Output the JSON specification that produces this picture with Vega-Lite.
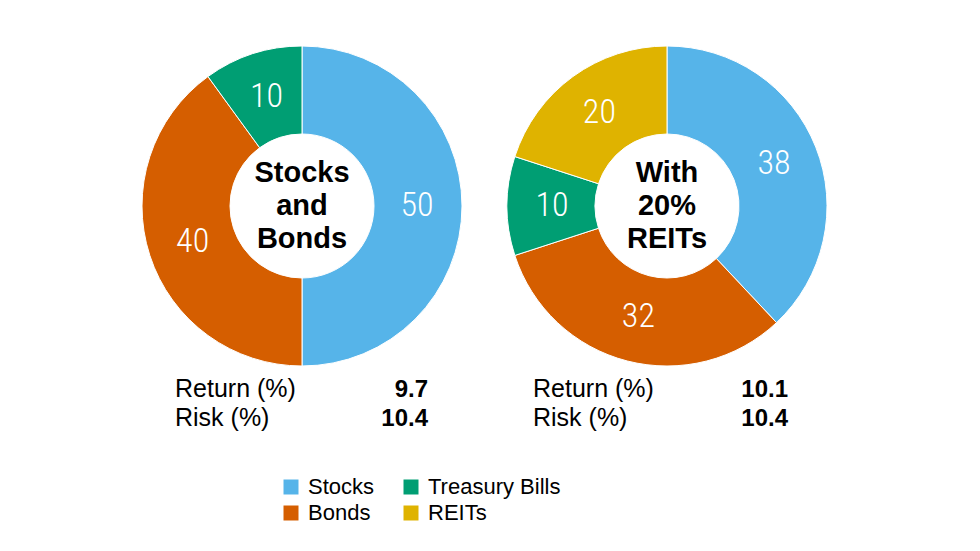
{
  "$schema": "https://vega.github.io/schema/vega-lite/v6.json",
  "background": "white",
  "padding": {"left": 140, "top": 0, "right": 0, "bottom": 0},
  "datasets": {
    "alloc": [
      {"portfolio": "Stocks and Bonds", "asset": "Stocks", "pct": 50, "seq": 1},
      {"portfolio": "Stocks and Bonds", "asset": "Bonds", "pct": 40, "seq": 2},
      {"portfolio": "Stocks and Bonds", "asset": "Treasury Bills", "pct": 10, "seq": 3},
      {"portfolio": "With 20% REITs", "asset": "Stocks", "pct": 38, "seq": 1},
      {"portfolio": "With 20% REITs", "asset": "Bonds", "pct": 32, "seq": 2},
      {"portfolio": "With 20% REITs", "asset": "Treasury Bills", "pct": 10, "seq": 3},
      {"portfolio": "With 20% REITs", "asset": "REITs", "pct": 20, "seq": 4}
    ],
    "centers": [
      {"portfolio": "Stocks and Bonds", "label": "Stocks\nand\nBonds"},
      {"portfolio": "With 20% REITs", "label": "With\n20%\nREITs"}
    ],
    "stats": [
      {"portfolio": "Stocks and Bonds", "metric": "Return (%)", "value": 9.7},
      {"portfolio": "Stocks and Bonds", "metric": "Risk (%)", "value": 10.4},
      {"portfolio": "With 20% REITs", "metric": "Return (%)", "value": 10.1},
      {"portfolio": "With 20% REITs", "metric": "Risk (%)", "value": 10.4}
    ]
  },
  "spacing": 45,
  "bounds": "flush",
  "hconcat": [
    {
      "width": 320,
      "height": 412,
      "layer": [
        {
          "data": {"name": "alloc"},
          "transform": [{"filter": "datum.portfolio === 'Stocks and Bonds'"}],
          "encoding": {
            "theta": {"field": "pct", "type": "quantitative", "stack": true},
            "order": {"field": "seq", "type": "quantitative"}
          },
          "layer": [
            {
              "mark": {"type": "arc", "radius": 160, "radius2": 72, "stroke": "white", "strokeWidth": 1},
              "encoding": {
                "color": {
                  "field": "asset",
                  "type": "nominal",
                  "scale": {
                    "domain": ["Stocks", "Bonds", "Treasury Bills", "REITs"],
                    "range": ["#56B4E9", "#D55E00", "#009E73", "#DFB300"]
                  },
                  "legend": {"title": null}
                }
              }
            },
            {
              "mark": {"type": "text", "radius": 115, "font": "Roboto Condensed, DejaVu Sans Condensed, Roboto", "fontWeight": 300, "fontSize": 34, "baseline": "middle"},
              "encoding": {
                "detail": {"field": "asset"},
                "text": {"field": "pct", "type": "quantitative"},
                "color": {"value": "white"}
              }
            }
          ]
        },
        {
          "data": {"name": "centers"},
          "transform": [{"filter": "datum.portfolio === 'Stocks and Bonds'"}],
          "mark": {"type": "text", "lineBreak": "\n", "lineHeight": 33, "dy": -33, "font": "Liberation Sans", "fontWeight": "bold", "fontSize": 29, "baseline": "middle", "color": "black"},
          "encoding": {"text": {"field": "label"}}
        },
        {
          "data": {"name": "stats"},
          "transform": [{"filter": "datum.portfolio === 'Stocks and Bonds'"}],
          "encoding": {
            "y": {"field": "metric", "type": "nominal", "axis": null, "scale": {"domain": ["Return (%)", "Risk (%)"], "range": [397, 426], "padding": 0}}
          },
          "layer": [
            {
              "mark": {"type": "text", "align": "left", "baseline": "alphabetic", "font": "Liberation Sans", "fontSize": 25, "color": "black"},
              "encoding": {
                "x": {"datum": 0, "type": "quantitative", "axis": null, "scale": {"domain": [0, 1], "range": [33, 286]}},
                "text": {"field": "metric"}
              }
            },
            {
              "mark": {"type": "text", "align": "right", "baseline": "alphabetic", "font": "Liberation Sans", "fontWeight": "bold", "fontSize": 24, "color": "black"},
              "encoding": {
                "x": {"datum": 1, "type": "quantitative", "axis": null, "scale": {"domain": [0, 1], "range": [33, 286]}},
                "text": {"field": "value", "type": "quantitative", "format": ".1f"}
              }
            }
          ]
        }
      ]
    },
    {
      "width": 320,
      "height": 412,
      "layer": [
        {
          "data": {"name": "alloc"},
          "transform": [{"filter": "datum.portfolio === 'With 20% REITs'"}],
          "encoding": {
            "theta": {"field": "pct", "type": "quantitative", "stack": true},
            "order": {"field": "seq", "type": "quantitative"}
          },
          "layer": [
            {
              "mark": {"type": "arc", "radius": 160, "radius2": 72, "stroke": "white", "strokeWidth": 1},
              "encoding": {
                "color": {
                  "field": "asset",
                  "type": "nominal",
                  "scale": {
                    "domain": ["Stocks", "Bonds", "Treasury Bills", "REITs"],
                    "range": ["#56B4E9", "#D55E00", "#009E73", "#DFB300"]
                  },
                  "legend": {"title": null}
                }
              }
            },
            {
              "mark": {"type": "text", "radius": 115, "font": "Roboto Condensed, DejaVu Sans Condensed, Roboto", "fontWeight": 300, "fontSize": 34, "baseline": "middle"},
              "encoding": {
                "detail": {"field": "asset"},
                "text": {"field": "pct", "type": "quantitative"},
                "color": {"value": "white"}
              }
            }
          ]
        },
        {
          "data": {"name": "centers"},
          "transform": [{"filter": "datum.portfolio === 'With 20% REITs'"}],
          "mark": {"type": "text", "lineBreak": "\n", "lineHeight": 33, "dy": -33, "font": "Liberation Sans", "fontWeight": "bold", "fontSize": 29, "baseline": "middle", "color": "black"},
          "encoding": {"text": {"field": "label"}}
        },
        {
          "data": {"name": "stats"},
          "transform": [{"filter": "datum.portfolio === 'With 20% REITs'"}],
          "encoding": {
            "y": {"field": "metric", "type": "nominal", "axis": null, "scale": {"domain": ["Return (%)", "Risk (%)"], "range": [397, 426], "padding": 0}}
          },
          "layer": [
            {
              "mark": {"type": "text", "align": "left", "baseline": "alphabetic", "font": "Liberation Sans", "fontSize": 25, "color": "black"},
              "encoding": {
                "x": {"datum": 0, "type": "quantitative", "axis": null, "scale": {"domain": [0, 1], "range": [26, 281]}},
                "text": {"field": "metric"}
              }
            },
            {
              "mark": {"type": "text", "align": "right", "baseline": "alphabetic", "font": "Liberation Sans", "fontWeight": "bold", "fontSize": 24, "color": "black"},
              "encoding": {
                "x": {"datum": 1, "type": "quantitative", "axis": null, "scale": {"domain": [0, 1], "range": [26, 281]}},
                "text": {"field": "value", "type": "quantitative", "format": ".1f"}
              }
            }
          ]
        }
      ]
    }
  ],
  "config": {
    "view": {"stroke": null},
    "legend": {
      "orient": "none",
      "legendX": 138,
      "legendY": 476,
      "direction": "vertical",
      "columns": 2,
      "symbolType": "square",
      "symbolSize": 225,
      "symbolStrokeWidth": 0,
      "symbolOpacity": 1,
      "labelFont": "Liberation Sans",
      "labelFontSize": 22,
      "labelColor": "black",
      "labelOffset": 6,
      "labelLimit": 300,
      "columnPadding": 25,
      "rowPadding": 4,
      "padding": 0
    }
  }
}
